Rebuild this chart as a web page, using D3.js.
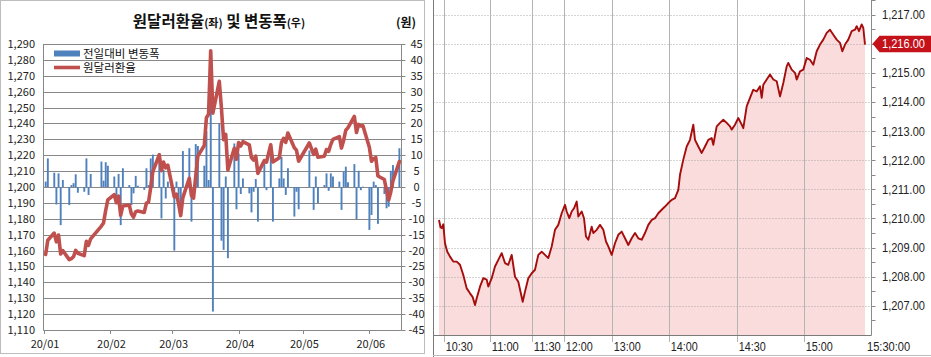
<!DOCTYPE html>
<html><head><meta charset="utf-8">
<script src="https://cdn.jsdelivr.net/npm/d3@7"></script>
<style>
html,body{margin:0;padding:0;background:#fff;}
svg{display:block;}
</style></head><body>
<svg id="c" width="931" height="357"></svg>
<script>
// ---------------- LEFT CHART DATA ----------------
const dates = [
"2020-01-02","2020-01-03","2020-01-06","2020-01-07","2020-01-08","2020-01-09","2020-01-10","2020-01-13","2020-01-14","2020-01-15","2020-01-16","2020-01-17","2020-01-20","2020-01-21","2020-01-22","2020-01-23","2020-01-28","2020-01-29","2020-01-30","2020-01-31",
"2020-02-03","2020-02-04","2020-02-05","2020-02-06","2020-02-07","2020-02-10","2020-02-11","2020-02-12","2020-02-13","2020-02-14","2020-02-17","2020-02-18","2020-02-19","2020-02-20","2020-02-21","2020-02-24","2020-02-25","2020-02-26","2020-02-27","2020-02-28",
"2020-03-02","2020-03-03","2020-03-04","2020-03-05","2020-03-06","2020-03-09","2020-03-10","2020-03-11","2020-03-12","2020-03-13","2020-03-16","2020-03-17","2020-03-18","2020-03-19","2020-03-20","2020-03-23","2020-03-24","2020-03-25","2020-03-26","2020-03-27","2020-03-30","2020-03-31",
"2020-04-01","2020-04-02","2020-04-03","2020-04-06","2020-04-07","2020-04-08","2020-04-09","2020-04-10","2020-04-13","2020-04-14","2020-04-16","2020-04-17","2020-04-20","2020-04-21","2020-04-22","2020-04-23","2020-04-24","2020-04-27","2020-04-28","2020-04-29",
"2020-05-04","2020-05-06","2020-05-07","2020-05-08","2020-05-11","2020-05-12","2020-05-13","2020-05-14","2020-05-15","2020-05-18","2020-05-19","2020-05-20","2020-05-21","2020-05-22","2020-05-25","2020-05-26","2020-05-27","2020-05-28","2020-05-29",
"2020-06-01","2020-06-02","2020-06-03","2020-06-04","2020-06-05","2020-06-08","2020-06-09","2020-06-10","2020-06-11","2020-06-12","2020-06-15"];
const rates = [
1157.5,1166.5,1171.0,1165.5,1169.8,1157.8,1160.0,1154.3,1154.9,1156.1,1160.1,1158.3,1156.8,1165.8,1163.3,1167.4,1175.4,1177.4,1185.2,1191.9,
1195.2,1190.1,1194.2,1182.2,1188.1,1188.7,1183.0,1181.0,1184.5,1184.9,1184.0,1189.9,1190.5,1199.5,1209.7,1220.3,1210.3,1215.7,1212.1,1213.8,
1193.8,1195.5,1189.5,1182.0,1193.3,1205.5,1194.6,1193.0,1206.5,1219.4,1226.1,1243.6,1245.8,1285.7,1246.5,1266.5,1249.6,1229.8,1233.1,1210.7,1224.4,1217.4,
1228.0,1225.8,1228.5,1226.5,1218.5,1217.0,1219.5,1208.6,1216.6,1215.6,1226.6,1215.7,1218.4,1227.9,1230.6,1228.1,1234.0,1224.7,1223.2,1216.2,
1227.7,1220.5,1223.8,1218.7,1219.3,1223.6,1222.4,1226.7,1230.0,1231.7,1224.5,1229.3,1235.7,1237.2,1244.4,1234.3,1239.4,1238.4,1238.5,
1225.0,1216.2,1217.9,1218.5,1206.9,1204.7,1198.0,1191.8,1196.9,1203.8,1216.0];
const changes = [
1.7,9.0,4.5,-5.5,4.3,-12.0,2.2,-5.7,0.6,1.2,4.0,-1.8,-1.5,9.0,-2.5,4.1,8.0,2.0,7.8,6.7,
3.3,-5.1,4.1,-12.0,5.9,0.6,-5.7,-2.0,3.5,0.4,-0.9,5.9,0.6,9.0,10.2,10.6,-9.9,5.4,-3.6,1.7,
-20.0,1.7,-6.0,-7.5,11.3,12.2,-10.9,-1.6,13.5,12.9,6.7,17.5,2.2,40.0,-39.2,20.0,-16.9,-19.8,3.3,-22.4,13.7,-7.0,
10.6,-2.2,2.7,-2.0,-8.0,-1.5,2.5,-10.9,8.0,-1.0,11.0,-10.9,2.7,9.5,2.7,-2.5,5.9,-9.3,-1.5,-7.0,
11.5,-7.2,3.3,-5.1,0.6,4.3,-1.2,4.3,3.3,1.7,-7.2,4.8,6.4,1.5,7.2,-10.1,5.1,-1.0,0.1,
-13.5,-8.8,1.7,0.6,-11.6,-2.2,-6.7,-6.2,5.1,6.9,12.2];
const leftTicks = [1110,1120,1130,1140,1150,1160,1170,1180,1190,1200,1210,1220,1230,1240,1250,1260,1270,1280,1290];
const rightTicks = [-45,-40,-35,-30,-25,-20,-15,-10,-5,0,5,10,15,20,25,30,35,40,45];
const monthTicks = ["2020-01-01","2020-02-01","2020-03-01","2020-04-01","2020-05-01","2020-06-01"];
const dateDomain = ["2020-01-01","2020-06-16"];
const legendLabels = ["전일대비 변동폭","원달러환율"];

// ---------------- RIGHT CHART DATA ----------------
// x = tick sequence position, y = price
const intraSeq = [6,7.5,8.7,10.3,12,14.3,17,20.3,23.7,27,30.3,33.7,37,39.7,42,43.7,47,50.3,53.7,55.3,58.7,62,65.3,68.7,72,75.3,78.7,82,85.3,89.7,92,95.3,98.7,102,105.3,108.7,112,115.3,118.7,122,125.3,128.7,132,133.7,136.3,138.7,141,143.7,145.3,148.7,151,153,155.3,158.7,160.3,163.7,167,170.3,173,175.3,178.7,182,185.3,188.7,192,195.3,198.7,202,205.3,208.7,212,215.3,218.7,222,225.3,228.7,232,235.3,238.7,242,245.3,247,
250.3,253.7,257,260.3,262,265.3,268.7,272,275.3,278.7,280.3,283.7,287,290.3,293.7,297,298.7,302,305.3,308.7,310.3,313.7,317,320.3,323.7,327,328.7,330.3,333.7,337,340.3,343.7,347,350.3,353.7,355.3,358.7,362,363.7,367,370.3,373.7,377,380.3,383.7,387,390.3,393.7,397,400.3,403.7,407,409.3,412,415.3,418.7,422,423.7,426,428.7,430.3,432];
const intraPrice = [1209.95,1209.7,1209.67,1209.8,1209.15,1208.86,1208.69,1208.52,1208.52,1208.41,1208.06,1207.6,1207.43,1207.3,1207.03,1207.26,1207.66,1207.95,1207.9,1207.66,1207.95,1208.35,1208.58,1208.81,1208.47,1208.41,1208.75,1208.0,1207.83,1207.14,1207.49,1207.95,1208.12,1208.24,1208.75,1208.86,1208.75,1208.64,1209.04,1209.61,1209.78,1210.18,1210.47,1210.24,1210.01,1210.24,1210.35,1210.58,1210.07,1210.24,1210.01,1209.38,1209.27,1209.72,1209.5,1209.61,1209.78,1209.61,1209.21,1209.04,1208.75,1209.15,1209.44,1209.55,1209.32,1209.09,1209.32,1209.5,1209.32,1209.27,1209.5,1209.78,1209.95,1210.01,1210.18,1210.3,1210.41,1210.53,1210.64,1210.7,1210.98,1211.5,
1212.02,1212.47,1212.7,1213.22,1212.7,1212.47,1212.25,1212.47,1212.7,1212.76,1212.53,1213.16,1213.28,1213.39,1213.28,1213.16,1213.05,1213.22,1213.45,1213.22,1213.1,1213.85,1214.14,1214.42,1214.36,1214.54,1214.14,1214.59,1214.77,1214.94,1214.77,1214.71,1214.19,1214.65,1215.22,1215.34,1215.11,1215.0,1214.77,1215.05,1215.11,1215.51,1215.45,1215.28,1215.74,1215.97,1216.14,1216.37,1216.48,1216.31,1216.14,1216.03,1215.74,1215.97,1216.14,1216.43,1216.48,1216.6,1216.43,1216.66,1216.54,1215.97];
const timeLabels = ["10:30","11:00","11:30","12:00","13:00","14:00","14:30","15:00","15:30:00"];
const timeSeq = [11.3,57.3,99.3,131.3,179.3,236.3,304.3,371.3,438];
const priceTicks = [1207,1208,1209,1210,1211,1212,1213,1214,1215,1216,1217];
const priceMinor = [1206.5,1207.5,1208.5,1209.5,1210.5,1211.5,1212.5,1213.5,1214.5,1215.5,1216.5,1217.5];
const lastPrice = 1216.00;
const seqDomain = [0, 438];
const priceDomain = [1206, 1217.5];

// ---------------- DRAW ----------------
const svg = d3.select("#c");
const KR = "'Noto Sans CJK KR','Noto Sans',sans-serif";
const parse = d3.timeParse("%Y-%m-%d");
const data = dates.map((d,i)=>({date:parse(d), rate:rates[i], chg:changes[i]}));

svg.append("rect").attr("x",0.5).attr("y",0.5).attr("width",424).attr("height",353)
  .attr("fill","#fff").attr("stroke","#bdbdbd");

const L = {left:43.5, right:401.5, top:44, bottom:330};
const xL = d3.scaleTime().domain(dateDomain.map(parse)).range([L.left, L.right]);
const yL = d3.scaleLinear().domain([leftTicks[0], leftTicks[leftTicks.length-1]]).range([L.bottom, L.top]);
const yR = d3.scaleLinear().domain([rightTicks[0], rightTicks[rightTicks.length-1]]).range([L.bottom, L.top]);

const gl = svg.append("g");
gl.selectAll("line.grid").data(leftTicks).join("line")
  .attr("x1",L.left).attr("x2",L.right)
  .attr("y1",d=>Math.round(yL(d))+0.5).attr("y2",d=>Math.round(yL(d))+0.5)
  .attr("stroke","#888").attr("stroke-width",1);
gl.append("line").attr("x1",L.left).attr("x2",L.left).attr("y1",L.top).attr("y2",L.bottom+0.5).attr("stroke","#888");
gl.append("line").attr("x1",L.right).attr("x2",L.right).attr("y1",L.top).attr("y2",L.bottom+0.5).attr("stroke","#888");
gl.selectAll("line.rt").data(rightTicks).join("line")
  .attr("x1",L.right).attr("x2",L.right+4)
  .attr("y1",d=>Math.round(yR(d))+0.5).attr("y2",d=>Math.round(yR(d))+0.5).attr("stroke","#888");
gl.selectAll("line.mt").data(monthTicks).join("line")
  .attr("x1",d=>Math.round(xL(parse(d)))+0.5).attr("x2",d=>Math.round(xL(parse(d)))+0.5)
  .attr("y1",L.bottom).attr("y2",L.bottom+4).attr("stroke","#888");

gl.selectAll("text.yl").data(leftTicks).join("text")
  .attr("x",35).attr("y",d=>yL(d)+4).attr("text-anchor","end")
  .attr("font-family",KR).attr("font-size",11).attr("fill","#222")
  .text(d=>d3.format(",")(d));
gl.selectAll("text.yr").data(rightTicks).join("text")
  .attr("x",416.5).attr("y",d=>yR(d)+4).attr("text-anchor","middle")
  .attr("font-family",KR).attr("font-size",11).attr("fill","#222")
  .text(d=>d);
gl.selectAll("text.xm").data(monthTicks).join("text")
  .attr("x",d=>xL(parse(d))+1.5).attr("y",348).attr("text-anchor","middle")
  .attr("font-family",KR).attr("font-size",11).attr("fill","#222")
  .text(d=>d3.timeFormat("%y/%m")(parse(d)));

gl.selectAll("rect.bar").data(data).join("rect")
  .attr("x",d=>xL(d.date)-0.9).attr("width",1.9)
  .attr("y",d=>Math.min(yR(d.chg),yR(0))).attr("height",d=>Math.abs(yR(d.chg)-yR(0)))
  .attr("fill","#4f81bd");

gl.append("path").datum(data)
  .attr("d",d3.line().x(d=>xL(d.date)).y(d=>yL(d.rate)))
  .attr("fill","none").attr("stroke","#c0504d").attr("stroke-width",3.6)
  .attr("stroke-linejoin","round").attr("stroke-linecap","round");

const t = gl.append("text").attr("x",219).attr("y",27).attr("text-anchor","middle")
  .attr("font-family",KR).attr("font-weight","bold").attr("fill","#111");
t.append("tspan").attr("font-size",15.5).text("원달러환율");
t.append("tspan").attr("font-size",11).text("(좌)");
t.append("tspan").attr("font-size",15.5).text(" 및 변동폭");
t.append("tspan").attr("font-size",11).text("(우)");
gl.append("text").attr("x",406).attr("y",27).attr("text-anchor","middle")
  .attr("font-family",KR).attr("font-weight","bold").attr("font-size",12).attr("fill","#111").text("(원)");

gl.append("rect").attr("x",54).attr("y",50.5).attr("width",26).attr("height",6).attr("fill","#4f81bd");
gl.append("line").attr("x1",54).attr("x2",80).attr("y1",67.5).attr("y2",67.5).attr("stroke","#c0504d").attr("stroke-width",3.6);
gl.append("text").attr("x",83).attr("y",57.5).attr("font-family",KR).attr("font-size",11.5).attr("fill","#111").text(legendLabels[0]);
gl.append("text").attr("x",83).attr("y",72).attr("font-family",KR).attr("font-size",11.5).attr("fill","#111").text(legendLabels[1]);

// ---------------- RIGHT PANEL ----------------
const R = {left:433.5, right:871.5, top:0, bottom:335.5};
const xI = d3.scaleLinear().domain(seqDomain).range([433, 871]);
const yI = d3.scaleLinear().domain(priceDomain).range([335, 0]);
const intra = intraSeq.map((s,i)=>({s, p:intraPrice[i]}));
const gr = svg.append("g");
const NUMF = "'Liberation Sans','Arial',sans-serif";

gr.append("path").datum(intra)
  .attr("d",d3.area().x(d=>xI(d.s)).y0(yI(priceDomain[0])).y1(d=>yI(d.p)))
  .attr("fill","#fbdcdc");

gr.selectAll("line.hg").data(priceTicks).join("line")
  .attr("x1",R.left).attr("x2",R.right)
  .attr("y1",d=>Math.round(yI(d))+0.5).attr("y2",d=>Math.round(yI(d))+0.5)
  .attr("stroke","#a8a8a8").attr("stroke-dasharray","1,2");
gr.selectAll("line.vg").data(timeSeq.slice(0,-1)).join("line")
  .attr("x1",d=>Math.round(xI(d))+0.5).attr("x2",d=>Math.round(xI(d))+0.5)
  .attr("y1",0).attr("y2",342).attr("stroke","#b4b4b4");

gr.append("path").datum(intra)
  .attr("d",d3.line().x(d=>xI(d.s)).y(d=>yI(d.p)))
  .attr("fill","none").attr("stroke","#a50d0d").attr("stroke-width",1.9).attr("stroke-linejoin","round");

gr.append("line").attr("x1",R.left).attr("x2",R.left).attr("y1",0).attr("y2",357).attr("stroke","#7a7a7a");
gr.append("line").attr("x1",R.left).attr("x2",R.right).attr("y1",R.bottom).attr("y2",R.bottom).attr("stroke","#7a7a7a");
gr.append("line").attr("x1",R.right).attr("x2",R.right).attr("y1",0).attr("y2",R.bottom).attr("stroke","#8a8a8a");
gr.append("line").attr("x1",433).attr("x2",931).attr("y1",355.5).attr("y2",355.5).attr("stroke","#bdbdbd");
gr.selectAll("line.pt").data(priceTicks.concat(priceMinor)).join("line")
  .attr("x1",R.right).attr("x2",R.right+4)
  .attr("y1",d=>Math.round(yI(d))+0.5).attr("y2",d=>Math.round(yI(d))+0.5).attr("stroke","#8a8a8a");

gr.selectAll("text.pl").data(priceTicks).join("text")
  .attr("x",882).attr("y",d=>yI(d)+4.5).attr("font-family",NUMF).attr("font-size",12).attr("fill","#222")
  .attr("textLength",43).attr("lengthAdjust","spacingAndGlyphs")
  .text(d=>d3.format(",.2f")(d));
gr.selectAll("text.tl").data(timeLabels).join("text")
  .attr("x",(d,i)=> i===timeLabels.length-1 ? xI(timeSeq[i])-4 : xI(timeSeq[i])+1.5)
  .attr("y",350.5).attr("font-family",NUMF).attr("font-size",12).attr("fill","#222")
  .attr("textLength",d=>d.length*5.4).attr("lengthAdjust","spacingAndGlyphs")
  .text(d=>d);

const py = yI(lastPrice);
gr.append("path")
  .attr("d",`M${R.right+1},${py} L${R.right+8},${py-8} L931,${py-8} L931,${py+8.5} L${R.right+8},${py+8.5} Z`)
  .attr("fill","#c4121a");
gr.append("text").attr("x",882).attr("y",py+4.5).attr("font-family",NUMF).attr("font-size",12)
  .attr("textLength",43).attr("lengthAdjust","spacingAndGlyphs")
  .attr("fill","#fff").text(d3.format(",.2f")(lastPrice));
</script>
</body></html>
